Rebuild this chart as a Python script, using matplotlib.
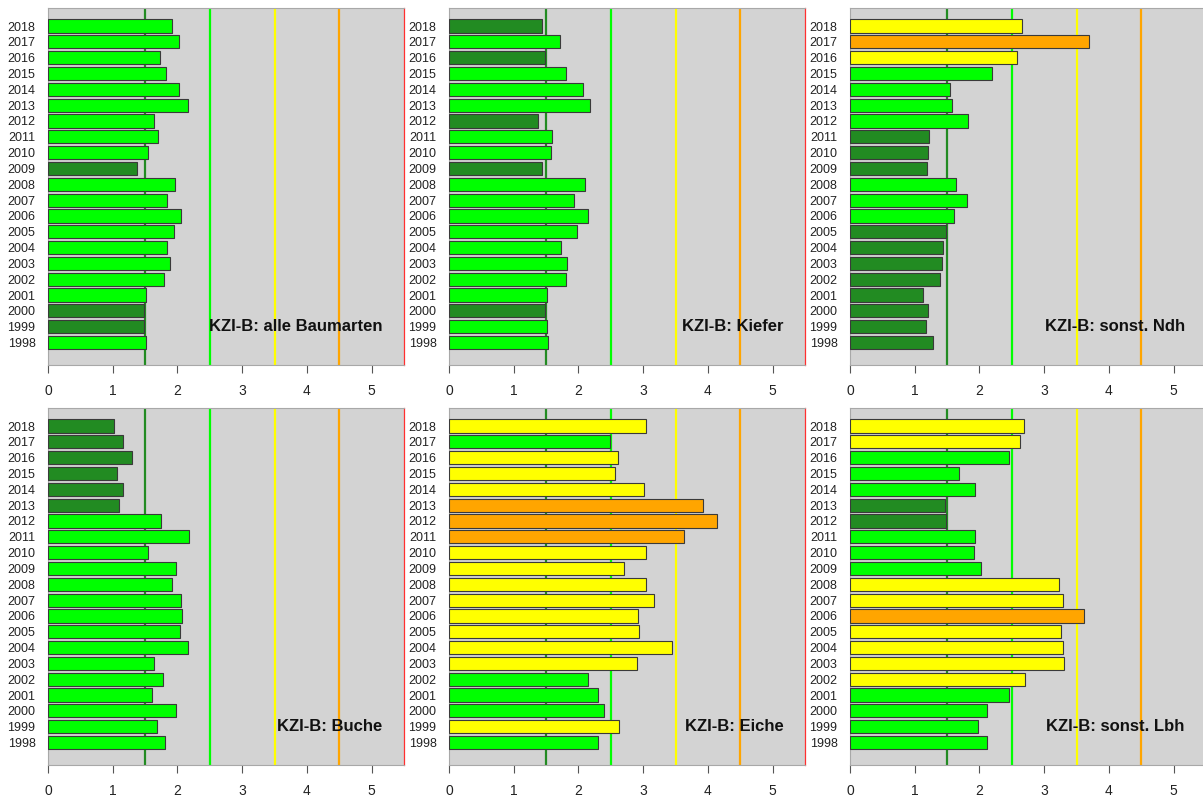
import numpy as np
import matplotlib
matplotlib.use("Agg")
import matplotlib.pyplot as plt

plt.rcParams['font.family'] = ['Liberation Sans', 'DejaVu Sans']

# Jahre (von unten nach oben)
jahre = list(range(1998, 2019))

# KZI-B Werte je Baumart, 1998 ... 2018
alle_baumarten = [1.52, 1.49, 1.49, 1.51, 1.79, 1.89, 1.84, 1.95, 2.06, 1.84, 1.96,
                  1.38, 1.54, 1.70, 1.64, 2.17, 2.02, 1.83, 1.73, 2.02, 1.92]
kiefer = [1.53, 1.51, 1.49, 1.51, 1.80, 1.83, 1.73, 1.98, 2.15, 1.93, 2.10,
          1.44, 1.57, 1.59, 1.38, 2.18, 2.07, 1.80, 1.49, 1.72, 1.44]
sonst_ndh = [1.28, 1.17, 1.21, 1.13, 1.39, 1.42, 1.44, 1.49, 1.61, 1.81, 1.63,
             1.19, 1.20, 1.22, 1.83, 1.57, 1.54, 2.19, 2.58, 3.69, 2.65]
buche = [1.81, 1.69, 1.97, 1.61, 1.77, 1.64, 2.17, 2.04, 2.07, 2.05, 1.91,
         1.97, 1.54, 2.18, 1.75, 1.10, 1.16, 1.06, 1.30, 1.16, 1.02]
eiche = [2.30, 2.62, 2.39, 2.30, 2.15, 2.91, 3.44, 2.93, 2.92, 3.16, 3.05,
         2.70, 3.04, 3.63, 4.14, 3.92, 3.01, 2.56, 2.61, 2.49, 3.04]
sonst_lbh = [2.11, 1.97, 2.11, 2.46, 2.70, 3.30, 3.29, 3.26, 3.62, 3.29, 3.23,
             2.02, 1.91, 1.93, 1.49, 1.47, 1.93, 1.68, 2.45, 2.62, 2.69]

titel = ["KZI-B: alle Baumarten", "KZI-B: Kiefer", "KZI-B: sonst. Ndh",
         "KZI-B: Buche", "KZI-B: Eiche", "KZI-B: sonst. Lbh"]
daten = [alle_baumarten, kiefer, sonst_ndh, buche, eiche, sonst_lbh]

# Klassengrenzen und Farben
grenzen = [1.5, 2.5, 3.5, 4.5, 5.5]
linienfarben = ["#228B22", "#00FF00", "#FFFF00", "#FFA500", "#FF3030"]
balkenfarben = ["#228B22", "#00FF00", "#FFFF00", "#FFA500", "#FF0000"]


def farbe(wert):
    for g, f in zip(grenzen, balkenfarben):
        if wert < g:
            return f
    return balkenfarben[-1]


W, H = 1203, 798
fig = plt.figure(figsize=(W / 100, H / 100), dpi=100)

for i in range(6):
    zeile = i // 3
    spalte = i % 3
    links = 48 + 401 * spalte
    if zeile == 0:
        oben, unten = 8, 365
    else:
        oben, unten = 408, 765
    ax = fig.add_axes([links / W, 1 - unten / H, 356 / W, (unten - oben) / H])
    ax.set_facecolor("#D3D3D3")

    werte = daten[i]
    y = np.arange(len(jahre))
    for g, f in zip(grenzen, linienfarben):
        if g == 5.5:
            # Randlinie, nur duenn sichtbar
            ax.axvline(g, color=f, lw=0.9, zorder=2, clip_on=False)
        else:
            ax.axvline(g, color=f, lw=1.6, zorder=2)
    ax.barh(y, werte, height=0.83, color=[farbe(w) for w in werte],
            edgecolor="#3a3a3a", linewidth=0.8, zorder=3)

    ax.set_xlim(0, 5.5)
    ax.set_ylim(-1.42, 21.14)
    ax.set_xticks([0, 1, 2, 3, 4, 5])
    ax.set_yticks(y)
    ax.set_yticklabels([str(j) for j in jahre])
    ax.tick_params(axis="x", direction="out", length=6, width=0.8,
                   color="#555555", labelsize=10, pad=8, labelcolor="#222222")
    ax.tick_params(axis="y", length=0, labelsize=9, pad=9, labelcolor="#222222")
    for s in ax.spines.values():
        s.set_color("#A8A8A8")
        s.set_linewidth(0.8)
    ax.spines["right"].set_visible(False)

    ax.text(5.17, 1, titel[i], ha="right", va="center", fontsize=12,
            fontweight="bold", color="#111111", zorder=4)

fig.savefig("out.png", dpi=100)
